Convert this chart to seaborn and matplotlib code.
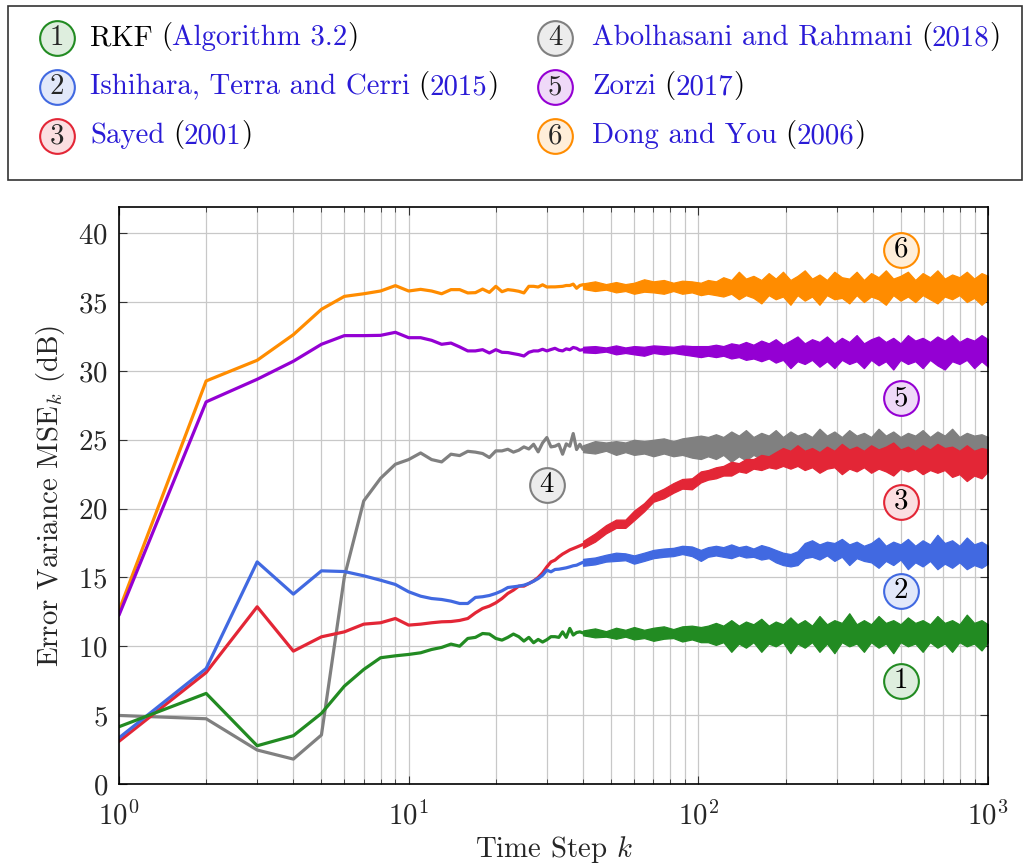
import numpy as np
import pandas as pd
import matplotlib
matplotlib.use("Agg")
import matplotlib.pyplot as plt
import seaborn as sns
from matplotlib.patches import Rectangle

# ---------------- data ----------------
K_LINE = list(range(1, 41))

rkf = [4.16, 6.58, 2.78, 3.51, 5.13, 7.11, 8.32, 9.17, 9.31, 9.41,
       9.53, 9.77, 9.92, 10.16, 10.01, 10.57, 10.65, 10.93, 10.89, 10.57,
       10.45, 10.65, 10.89, 10.70, 10.38, 10.65, 10.26, 10.50, 10.31, 10.48,
       10.70, 10.70, 10.65, 11.05, 10.65, 11.30, 10.82, 11.00, 11.05, 10.97]
ishihara = [3.35, 8.39, 16.13, 13.79, 15.48, 15.43, 15.12, 14.80, 14.49, 13.96,
            13.64, 13.47, 13.40, 13.28, 13.11, 13.11, 13.55, 13.60, 13.69, 13.84,
            14.03, 14.27, 14.32, 14.37, 14.44, 14.56, 14.73, 14.92, 15.16, 15.53,
            15.41, 15.58, 15.60, 15.65, 15.70, 15.77, 15.85, 15.89, 16.00, 16.10]
sayed = [3.10, 8.10, 12.87, 9.65, 10.69, 11.05, 11.61, 11.71, 12.02, 11.54,
         11.61, 11.71, 11.78, 11.80, 11.88, 12.02, 12.43, 12.75, 12.92, 13.16,
         13.47, 13.84, 14.08, 14.37, 14.37, 14.56, 14.75, 15.00, 15.34, 15.77,
         16.13, 16.26, 16.50, 16.70, 16.85, 17.00, 17.10, 17.20, 17.30, 17.40]
abolhasani = [4.98, 4.74, 2.47, 1.81, 3.56, 15.05, 20.56, 22.20, 23.22, 23.56,
              24.04, 23.56, 23.39, 23.95, 23.85, 24.16, 24.10, 24.00, 23.71, 24.19,
              24.19, 24.31, 24.10, 24.24, 24.48, 24.33, 24.67, 24.12, 24.77, 25.16,
              24.48, 24.53, 24.67, 23.95, 24.70, 24.53, 25.45, 24.29, 24.67, 24.30]
zorzi = [12.26, 27.75, 29.39, 30.70, 31.93, 32.56, 32.56, 32.58, 32.80, 32.41,
         32.41, 32.22, 31.93, 32.02, 31.74, 31.45, 31.45, 31.54, 31.30, 31.54,
         31.35, 31.33, 31.25, 31.18, 31.08, 31.35, 31.45, 31.45, 31.57, 31.45,
         31.55, 31.64, 31.50, 31.45, 31.60, 31.54, 31.70, 31.64, 31.50, 31.54]
dong = [12.60, 29.27, 30.77, 32.63, 34.47, 35.41, 35.60, 35.80, 36.19, 35.80,
        35.92, 35.80, 35.60, 35.90, 35.90, 35.66, 35.68, 35.94, 35.70, 36.14,
        35.75, 35.90, 35.85, 35.78, 35.66, 36.14, 36.14, 36.09, 36.25, 36.09,
        36.10, 36.10, 36.12, 36.14, 36.20, 36.20, 36.30, 36.00, 36.20, 36.26]

# noisy part (k >= 40): upper / lower envelope
K_BAND = [40, 44, 48, 52, 56, 60, 65, 70, 76, 82, 88, 95, 102,
          108, 115, 122, 130, 138, 146, 155, 165, 175, 185,
          196, 208, 220, 233, 247, 262, 278, 295, 313, 332,
          352, 373, 395, 419, 444, 471, 499, 529, 561, 595,
          631, 669, 709, 752, 797, 845, 896, 950, 1000]

rkf_hi = [11.15, 11.30, 11.10, 11.35, 11.20, 11.40, 11.20, 11.35, 11.45, 11.25, 11.45, 11.50, 11.40,
          11.5, 11.7, 11.5, 11.9, 11.5, 11.8, 11.6, 12.0, 11.5, 11.8,
          11.6, 12.1, 11.6, 11.9, 11.5, 12.2, 11.6, 11.9, 11.7, 12.4,
          11.6, 11.9, 11.6, 12.2, 11.7, 11.9, 11.6, 12.1, 11.7, 11.9,
          11.6, 12.2, 11.7, 11.9, 11.6, 12.3, 11.7, 11.9, 11.6]
rkf_lo = [10.80, 10.65, 10.70, 10.55, 10.70, 10.50, 10.60, 10.40, 10.55, 10.60, 10.35, 10.50, 10.30,
          10.3, 10.1, 10.3, 9.6, 10.2, 9.9, 10.3, 9.6, 10.2, 10.0,
          10.3, 9.5, 10.2, 9.9, 10.3, 9.6, 10.2, 9.5, 10.3, 10.0,
          10.2, 9.6, 10.3, 9.9, 10.2, 9.5, 10.3, 10.0, 10.2, 9.6,
          10.3, 9.9, 10.2, 9.6, 10.3, 10.0, 10.2, 9.7, 10.3]
ishihara_hi = [16.35, 16.45, 16.65, 16.80, 16.75, 16.60, 16.80, 17.00, 17.10, 17.15, 17.30, 17.25, 17.00,
               17.2, 17.3, 17.2, 17.4, 17.2, 17.3, 17.1, 17.35, 17.2, 17.0,
               16.8, 16.7, 16.9, 17.5, 17.7, 17.4, 17.6, 17.5, 17.8, 17.4,
               17.6, 17.3, 17.5, 17.9, 17.3, 17.6, 17.4, 17.8, 17.3, 17.7,
               17.4, 18.1, 17.5, 17.7, 17.3, 17.9, 17.4, 17.6, 17.3]
ishihara_lo = [15.85, 15.95, 16.15, 16.20, 16.25, 16.00, 16.20, 16.40, 16.50, 16.55, 16.70, 16.55, 16.20,
               16.5, 16.6, 16.5, 16.4, 16.6, 16.45, 16.5, 16.3, 16.4, 16.1,
               15.9, 15.8, 15.9, 16.4, 16.5, 16.3, 16.6, 16.2, 16.5, 15.9,
               16.4, 16.2, 16.1, 15.7, 16.2, 15.9, 16.3, 15.6, 16.1, 15.8,
               16.2, 15.6, 16.0, 15.7, 16.1, 15.6, 15.9, 15.7, 16.0]
sayed_hi = [17.65, 18.20, 18.80, 19.20, 19.20, 19.85, 20.40, 21.10, 21.45, 21.85, 22.15, 22.20, 22.70,
            22.8, 23.0, 23.1, 23.4, 23.3, 23.6, 23.6, 23.9, 23.8, 24.1,
            24.4, 24.2, 24.6, 24.2, 24.4, 24.1, 24.5, 24.2, 24.7, 24.3,
            24.5, 24.2, 24.6, 24.3, 24.5, 24.8, 24.3, 24.5, 24.2, 24.6,
            24.3, 24.7, 24.4, 24.5, 24.2, 24.6, 24.2, 24.4, 24.3]
sayed_lo = [17.15, 17.60, 18.20, 18.60, 18.60, 19.15, 19.80, 20.50, 20.75, 21.15, 21.45, 21.40, 21.90,
            22.1, 22.2, 22.4, 22.4, 22.7, 22.6, 22.9, 22.8, 23.0, 22.9,
            23.1, 22.9, 23.1, 22.8, 23.0, 22.6, 22.9, 23.0, 22.5, 22.9,
            22.7, 23.0, 22.6, 22.9, 22.7, 22.4, 22.9, 22.7, 22.9, 22.5,
            22.8, 22.6, 22.8, 22.3, 22.5, 22.0, 22.4, 22.2, 22.7]
abolhasani_hi = [24.60, 24.90, 24.80, 24.90, 24.80, 25.00, 24.90, 25.00, 25.10, 24.90, 25.10, 25.20, 25.30,
                 25.2, 25.4, 25.2, 25.6, 25.3, 25.7, 25.2, 25.5, 25.3, 25.7,
                 25.2, 25.6, 25.3, 25.5, 25.2, 25.8, 25.3, 25.6, 25.2, 25.7,
                 25.3, 25.5, 25.2, 25.8, 25.3, 25.6, 25.2, 25.5, 25.3, 25.7,
                 25.2, 25.6, 25.3, 25.8, 25.2, 25.5, 25.3, 25.4, 25.2]
abolhasani_lo = [24.10, 24.00, 24.20, 23.90, 24.10, 23.90, 24.00, 23.80, 24.00, 23.80, 23.90, 23.70, 23.60,
                 23.8, 23.6, 23.9, 23.4, 23.8, 23.5, 23.9, 23.6, 23.8, 23.4,
                 23.9, 23.6, 23.8, 23.5, 23.9, 23.6, 23.8, 23.4, 23.9, 23.6,
                 23.8, 23.5, 23.9, 23.6, 23.7, 23.5, 23.9, 23.6, 23.8, 23.4,
                 23.9, 23.6, 23.8, 23.5, 23.9, 23.6, 23.8, 23.7, 23.9]
zorzi_hi = [31.75, 31.80, 31.70, 31.85, 31.70, 31.80, 31.75, 31.85, 31.80, 31.75, 31.85, 31.80, 31.80,
            31.8, 31.9, 31.8, 32.0, 31.9, 32.1, 31.9, 32.2, 32.0, 32.3,
            31.9, 32.2, 32.5, 32.0, 32.3, 32.1, 32.5, 32.0, 32.4, 32.1,
            32.6, 32.0, 32.3, 32.5, 32.1, 32.4, 32.0, 32.6, 32.2, 32.4,
            32.1, 32.5, 32.2, 32.6, 32.1, 32.4, 32.2, 32.6, 32.3]
zorzi_lo = [31.35, 31.30, 31.40, 31.20, 31.30, 31.20, 31.10, 31.30, 31.20, 31.30, 31.20, 31.10, 31.00,
            31.1, 31.0, 31.1, 30.9, 31.0, 30.8, 30.9, 30.7, 30.9, 30.6,
            30.8, 30.2, 30.7, 30.5, 30.8, 30.3, 30.7, 30.2, 30.8, 30.5,
            30.7, 30.2, 30.8, 30.4, 30.7, 30.1, 30.8, 30.5, 30.7, 30.2,
            30.8, 30.4, 30.1, 30.7, 30.5, 30.8, 30.2, 30.7, 30.3]
dong_hi = [36.35, 36.50, 36.30, 36.45, 36.30, 36.40, 36.65, 36.50, 36.60, 36.40, 36.55, 36.50, 36.40,
           36.6, 36.5, 36.8, 36.6, 37.2, 36.7, 36.9, 36.6, 37.1, 36.7,
           37.2, 36.6, 36.9, 37.3, 36.7, 37.0, 36.6, 37.2, 36.8, 36.7,
           37.2, 36.6, 37.1, 36.8, 37.3, 36.7, 36.9, 37.2, 36.6, 37.1,
           36.8, 37.3, 36.7, 37.0, 36.8, 37.2, 36.7, 37.1, 36.9]
dong_lo = [35.95, 35.80, 35.90, 35.70, 35.80, 35.60, 35.75, 35.70, 35.60, 35.80, 35.60, 35.70, 35.50,
           35.6, 35.5, 35.4, 35.6, 35.2, 35.5, 35.3, 34.9, 35.5, 35.2,
           35.4, 34.8, 35.5, 35.1, 35.4, 34.8, 35.5, 35.2, 35.3, 34.9,
           35.5, 35.0, 35.4, 35.2, 34.8, 35.5, 35.1, 35.4, 35.0, 35.5,
           35.2, 34.9, 35.4, 35.2, 35.5, 35.0, 35.3, 34.8, 35.2]

SERIES = ["1", "2", "3", "4", "5", "6"]
COLORS = ["#228B22", "#4169E1", "#E32636", "#808080", "#9400D3", "#FF8C00"]
FILLS = ["#DEEEDE", "#E2E8FA", "#FBDEE1", "#ECECEC", "#EFD9F8", "#FFEED9"]
LINES = [rkf, ishihara, sayed, abolhasani, zorzi, dong]
HIS = [rkf_hi, ishihara_hi, sayed_hi, abolhasani_hi, zorzi_hi, dong_hi]
LOS = [rkf_lo, ishihara_lo, sayed_lo, abolhasani_lo, zorzi_lo, dong_lo]

LEGEND_PARTS = [
    [("RKF", "k"), ("(", "k"), ("Algorithm 3.2", "B"), (")", "k")],
    [("Ishihara, Terra and Cerri", "B"), ("(", "k"), ("2015", "B"), (")", "k")],
    [("Sayed", "B"), ("(", "k"), ("2001", "B"), (")", "k")],
    [("Abolhasani and Rahmani", "B"), ("(", "k"), ("2018", "B"), (")", "k")],
    [("Zorzi", "B"), ("(", "k"), ("2017", "B"), (")", "k")],
    [("Dong and You", "B"), ("(", "k"), ("2006", "B"), (")", "k")],
]
LINK = "#2A1BD6"

# annotation positions (k, dB) for series 1..6
ANN_K = [500, 500, 500, 30, 500, 500]
ANN_Y = [7.5, 14.0, 20.5, 21.7, 28.0, 38.8]

# ---------------- styling ----------------
sns.set_theme(style="ticks")
plt.rcParams["font.family"] = ["cmr10", "DejaVu Serif"]
plt.rcParams["mathtext.fontset"] = "cm"
plt.rcParams["axes.formatter.use_mathtext"] = True
plt.rcParams["axes.unicode_minus"] = False

FS = 20.8

fig = plt.figure(figsize=(10.30, 8.65), dpi=100)
ax = fig.add_axes([0.1155, 0.0936, 0.8437, 0.6671])

df = pd.concat([pd.DataFrame({"k": K_LINE, "mse": v, "series": s})
                for s, v in zip(SERIES, LINES)], ignore_index=True)
order = SERIES[::-1]
pal = dict(zip(SERIES, COLORS))

# bands (noisy part), drawn from 6 down to 1
for i in range(5, -1, -1):
    ax.fill_between(K_BAND, LOS[i], HIS[i], color=COLORS[i], lw=0.9,
                    edgecolor=COLORS[i], zorder=1.5 + (5 - i) * 0.01)

sns.lineplot(data=df, x="k", y="mse", hue="series", hue_order=order,
             palette=pal, linewidth=2.3, legend=False, ax=ax,
             estimator=None, sort=False)

ax.set_xscale("log")
ax.set_xlim(1, 1000)
ax.set_ylim(0, 41.9)
ax.set_yticks(range(0, 41, 5))
ax.grid(True, which="major", color="#c8c8c8", lw=0.9)
ax.grid(True, which="minor", axis="x", color="#c8c8c8", lw=0.9)
ax.set_axisbelow(True)
ax.tick_params(which="both", direction="in", top=True, right=True,
               labelsize=FS, color="#333333")
ax.tick_params(which="major", length=6, width=0.8)
ax.tick_params(axis="x", which="major", pad=12)
ax.tick_params(axis="y", which="major", pad=8)
ax.tick_params(which="minor", length=3.5, width=0.6)
for sp in ax.spines.values():
    sp.set_color("black")
    sp.set_linewidth(1.2)
ax.set_xlabel(r"Time Step $k$", fontsize=FS, labelpad=3)
ax.set_ylabel(r"Error Variance MSE$_k$ (dB)", fontsize=FS, labelpad=8)

# in-plot labels
for i in range(6):
    ax.plot([ANN_K[i]], [ANN_Y[i]], "o", ms=25, mfc=FILLS[i], mec=COLORS[i],
            mew=1.5, zorder=5)
    ax.text(ANN_K[i], ANN_Y[i], SERIES[i], ha="center", va="center",
            fontsize=FS, color="black", zorder=6)

# legend box in pixel coordinates
lax = fig.add_axes([0, 0, 1, 1])
lax.set_xlim(0, 1030)
lax.set_ylim(865, 0)
lax.set_axis_off()
lax.add_patch(Rectangle((8, 6), 1014, 174, fill=False, ec="#333333", lw=1.2))

cx = [57, 57, 57, 555, 555, 555]
tx = [90, 90, 90, 592, 592, 592]
ry = [38, 87, 136, 38, 87, 136]
for i in range(6):
    lax.plot([cx[i]], [ry[i]], "o", ms=25, mfc=FILLS[i], mec=COLORS[i], mew=1.5)
    lax.text(cx[i], ry[i], SERIES[i], ha="center", va="center", fontsize=FS)
    prev = None
    for j, (txt, c) in enumerate(LEGEND_PARTS[i]):
        col = LINK if c == "B" else "black"
        if prev is None:
            prev = lax.text(tx[i], ry[i], txt, ha="left", va="center",
                            fontsize=FS, color=col)
        else:
            gap = 6 if txt == "(" else 0
            prev = lax.annotate(txt, xy=(1, 0), xycoords=prev,
                                xytext=(gap, 0), textcoords="offset points",
                                ha="left", va="bottom", fontsize=FS, color=col)

fig.savefig("out.png", dpi=100)
